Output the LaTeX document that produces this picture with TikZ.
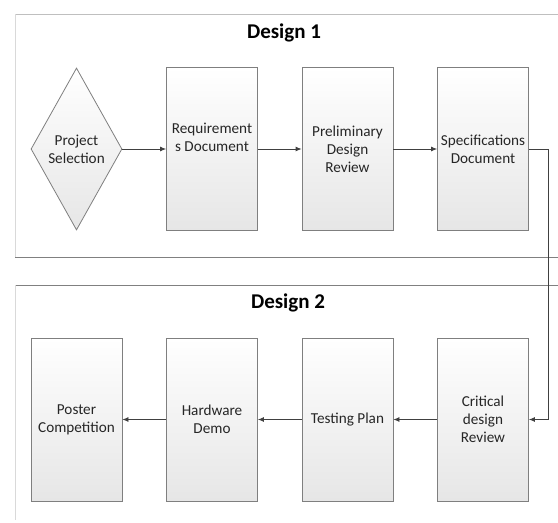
\documentclass[tikz,border=0pt]{standalone}
\usepackage{fontspec}
\setmainfont{Carlito}
\usetikzlibrary{shapes.geometric,arrows.meta}
\definecolor{boxedge}{HTML}{7F7F7F}
\definecolor{boxbot}{HTML}{E6E6E6}
\definecolor{linecol}{HTML}{404040}
\tikzset{
  stepbox/.style={draw=boxedge, line width=0.8pt, top color=white, bottom color=boxbot,
    minimum width=91pt, minimum height=163pt, inner sep=1pt, align=center,
    font=\fontsize{15.2}{18}\selectfont, text=black!85},
  decisionbox/.style={stepbox, diamond, shape aspect=0.56, minimum width=91pt, minimum height=162pt, inner sep=0pt},
  arr/.style={draw=linecol, line width=0.8pt, -{Latex[length=6pt,width=5pt]}},
  paneltitle/.style={font=\bfseries\fontsize{21}{24}\selectfont, text=black},
  panelline/.style={line width=1pt}
}
\begin{document}
\begin{tikzpicture}[x=1pt,y=-1pt]
\useasboundingbox (0,0) rectangle (558,523);
\fill[white] (0,0) rectangle (558,523);
% panel 1
\draw[panelline, draw=black!25] (15,14) -- (558,14);
\draw[panelline, draw=black!15] (15,14) -- (15,257);
\draw[panelline, draw=black!50] (15,257) -- (558,257);
% panel 2
\draw[panelline, draw=black!50] (15,285) -- (558,285);
\draw[panelline, draw=black!15] (15,285) -- (15,520);
\node[paneltitle] (t1) at (284,33) {Design 1};
\node[paneltitle] (t2) at (288,303) {Design 2};
% top row
\node[decisionbox] (ps) at (76.5,149) {Project\\Selection};
\node[stepbox] (rd) at (212,149) {Requirement\\s Document\\\strut};
\node[stepbox] (pdr) at (347.5,149) {Preliminary\\Design\\Review};
\node[stepbox] (sd) at (483,149) {Specifications\\Document};
% bottom row
\node[stepbox] (pc) at (76.5,419.5) {Poster\\Competition};
\node[stepbox] (hd) at (212,419.5) {Hardware\\Demo};
\node[stepbox] (tp) at (347.5,419.5) {Testing Plan};
\node[stepbox] (cdr) at (483,419.5) {Critical\\design\\Review};
% connectors
\draw[arr] (ps.east) -- (rd.west);
\draw[arr] (rd.east) -- (pdr.west);
\draw[arr] (pdr.east) -- (sd.west);
\draw[arr] (sd.east) -- ++(19,0) |- (cdr.east);
\draw[arr] (cdr.west) -- (tp.east);
\draw[arr] (tp.west) -- (hd.east);
\draw[arr] (hd.west) -- (pc.east);
\end{tikzpicture}
\end{document}
